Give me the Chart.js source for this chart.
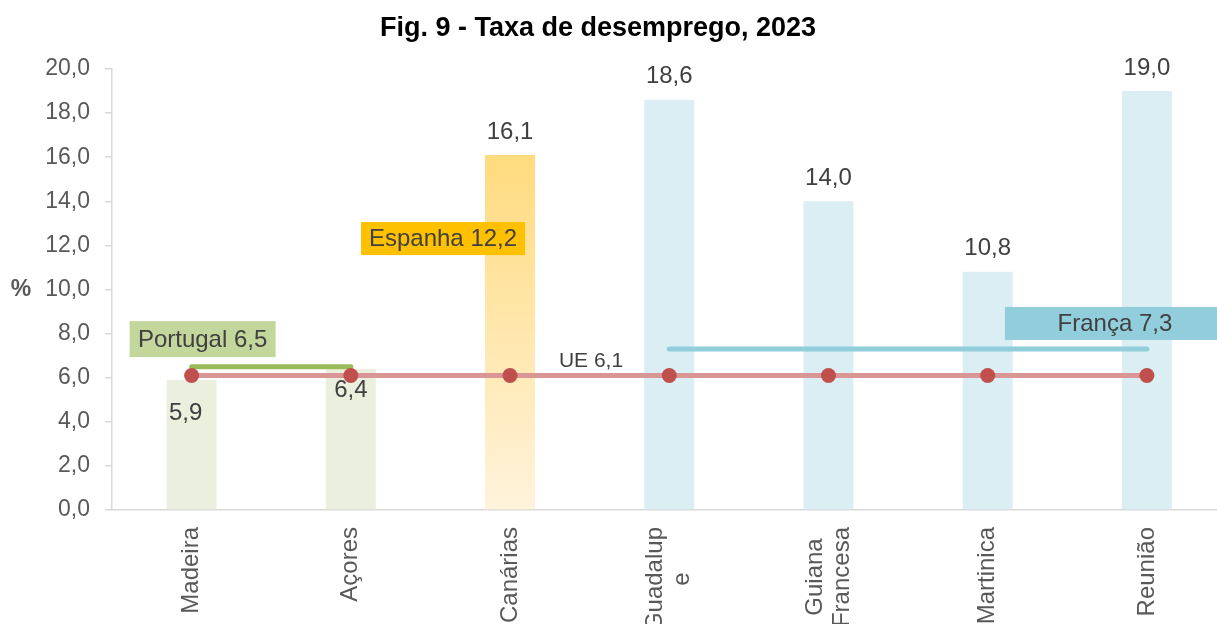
<!DOCTYPE html>
<html>
<head>
<meta charset="utf-8">
<script src="https://cdn.jsdelivr.net/npm/chart.js@4"></script>
<style>
  html, body { margin: 0; padding: 0; background: #fff; overflow: hidden; }
  #wrap { position: relative; width: 1234px; height: 624px; }
</style>
</head>
<body>
<div id="wrap"><canvas id="c"></canvas></div>
<script>
// ---- data ----
const categories = ['Madeira', 'Açores', 'Canárias', ['Guadalup', 'e'], ['Guiana', 'Francesa'], 'Martinica', 'Reunião'];
const unemployment = [5.9, 6.4, 16.1, 18.6, 14.0, 10.8, 19.0];
const ueRate = [6.1, 6.1, 6.1, 6.1, 6.1, 6.1, 6.1];
const portugalRate = [6.5, 6.5, null, null, null, null, null];
const francaRate = [null, null, null, 7.3, 7.3, 7.3, 7.3];
const yTicks = [0, 2, 4, 6, 8, 10, 12, 14, 16, 18, 20];
const titleText = 'Fig. 9 - Taxa de desemprego, 2023';
const countryLabels = ['Portugal 6,5', 'Espanha 12,2', 'França 7,3', 'UE 6,1'];

const FONT = "'Liberation Sans', Arial, sans-serif";
const fmt = v => v.toFixed(1).replace('.', ',');

const barColors = ['#EBF0DE', '#EBF0DE', 'gradient', '#DAEEF3', '#DAEEF3', '#DAEEF3', '#DAEEF3'];

function barBg(ctx) {
  const i = ctx.dataIndex;
  const col = barColors[i];
  if (col !== 'gradient') return col;
  const chart = ctx.chart;
  if (!chart.chartArea) return '#FFE9AE';
  const y = chart.scales.y;
  const g = chart.ctx.createLinearGradient(0, y.getPixelForValue(unemployment[i]), 0, y.getPixelForValue(0));
  g.addColorStop(0, '#FFDB7E');
  g.addColorStop(1, '#FFF3DC');
  return g;
}

// annotation layout (positions relative to the scales)
const annotations = [
  { text: countryLabels[0], cat: 0, dx: 11, y: 7.75, w: 146, h: 36, bg: '#C3D69B', size: 24 },
  { text: countryLabels[1], cat: 2, dx: -67, y: 12.31, w: 164, h: 33, bg: '#FFC000', size: 24 },
  { text: countryLabels[2], cat: 6, dx: -32, y: 8.46, w: 220, h: 33, bg: '#92CDDC', size: 24 },
  { text: countryLabels[3], cat: 2, dx: 81, y: 6.80, w: 0, h: 0, bg: null, size: 21 }
];
// label offsets for bar value labels: [dx, dy from bar top]
const valueLabelOffsets = [[-6, 33], [0, 21], [0, -23], [0, -23], [0, -23], [0, -23], [0, -23]];

const extras = {
  id: 'extras',
  beforeDraw(chart) {
    // centre rotated x labels as a block, lines centred on each other
    const xs = chart.scales.x;
    const items = xs.getLabelItems();
    const lh = 27;
    const c = chart.ctx;
    items.forEach(it => {
      if (it._adj || !it.options || !it.options.translation) return;
      const lines = Array.isArray(it.label) ? it.label : [it.label];
      c.save();
      c.font = it.font.string;
      const maxW = Math.max(...lines.map(l => c.measureText(l).width));
      c.restore();
      const tr = it.options.translation;
      tr[0] -= lh * (lines.length - 1) / 2;
      tr[1] += maxW / 2;
      it.options.textAlign = 'center';
      it._adj = true;
    });
  },
  afterDraw(chart) {
    const c = chart.ctx;
    const ys = chart.scales.y;
    c.save();
    c.fillStyle = '#000000';
    c.font = `bold 27px ${FONT}`;
    c.textAlign = 'center';
    c.textBaseline = 'middle';
    c.fillText(titleText, 598, 29);
    c.fillStyle = '#595959';
    c.font = `bold 23px ${FONT}`;
    c.fillText('%', 21, ys.getPixelForValue(10));
    c.restore();
  },
  afterDatasetsDraw(chart) {
    const c = chart.ctx;
    const xs = chart.scales.x, ys = chart.scales.y;
    c.save();
    c.textAlign = 'center';
    c.textBaseline = 'middle';
    c.fillStyle = '#404040';
    c.font = `24px ${FONT}`;
    unemployment.forEach((v, i) => {
      const px = xs.getPixelForValue(i) + valueLabelOffsets[i][0];
      const py = ys.getPixelForValue(v) + valueLabelOffsets[i][1];
      c.fillText(fmt(v), px, py);
    });
    annotations.forEach(a => {
      const cx = xs.getPixelForValue(a.cat) + a.dx;
      const cy = ys.getPixelForValue(a.y);
      if (a.bg) {
        c.fillStyle = a.bg;
        c.fillRect(cx - a.w / 2, cy - a.h / 2, a.w, a.h);
      }
      c.fillStyle = '#404040';
      c.font = `${a.size}px ${FONT}`;
      c.fillText(a.text, cx, cy + 1);
    });
    c.restore();
  }
};

new Chart(document.getElementById('c'), {
  data: {
    labels: categories,
    datasets: [
      {
        type: 'line', label: 'UE', data: ueRate, order: 0,
        borderColor: '#DA9694', borderWidth: 5,
        pointBackgroundColor: '#C0504D', pointBorderColor: '#C0504D',
        pointRadius: 7.5, pointBorderWidth: 0, pointHoverRadius: 7.5
      },
      {
        type: 'line', label: 'Portugal', data: portugalRate, order: 1,
        borderColor: '#9BBB59', borderWidth: 5, borderCapStyle: 'round',
        pointRadius: 0, spanGaps: false
      },
      {
        type: 'line', label: 'França', data: francaRate, order: 2,
        borderColor: '#92CDDC', borderWidth: 5, borderCapStyle: 'round',
        pointRadius: 0, spanGaps: false
      },
      {
        type: 'bar', label: 'Taxa de desemprego', data: unemployment, order: 10,
        backgroundColor: barBg, borderWidth: 0,
        categoryPercentage: 1.0, barPercentage: 0.314
      }
    ]
  },
  options: {
    responsive: true,
    maintainAspectRatio: false,
    animation: false,
    events: [],
    layout: { padding: { top: 69, left: 0, right: 0, bottom: 0 } },
    plugins: {
      legend: { display: false },
      title: { display: false },
      tooltip: { enabled: false }
    },
    scales: {
      x: {
        offset: true,
        grid: { display: false, drawTicks: false, drawOnChartArea: false },
        border: { display: true, color: '#D9D9D9', width: 1.5 },
        ticks: {
          autoSkip: false, minRotation: 90, maxRotation: 90,
          color: '#595959', padding: 17,
          font: { family: FONT, size: 24, lineHeight: 1.13 }
        },
        afterFit(scale) { scale.height = 114; }
      },
      y: {
        min: 0, max: 20,
        afterBuildTicks(scale) { scale.ticks = yTicks.map(v => ({ value: v })); },
        grid: { drawOnChartArea: false, drawTicks: true, tickLength: 7, color: '#D9D9D9', lineWidth: 1.5 },
        border: { display: true, color: '#D9D9D9', width: 1.5 },
        ticks: {
          color: '#595959', padding: 15,
          font: { family: FONT, size: 23 },
          callback: v => fmt(v)
        },
        afterFit(scale) { scale.width = 112; }
      }
    }
  },
  plugins: [extras]
});
</script>
</body>
</html>
